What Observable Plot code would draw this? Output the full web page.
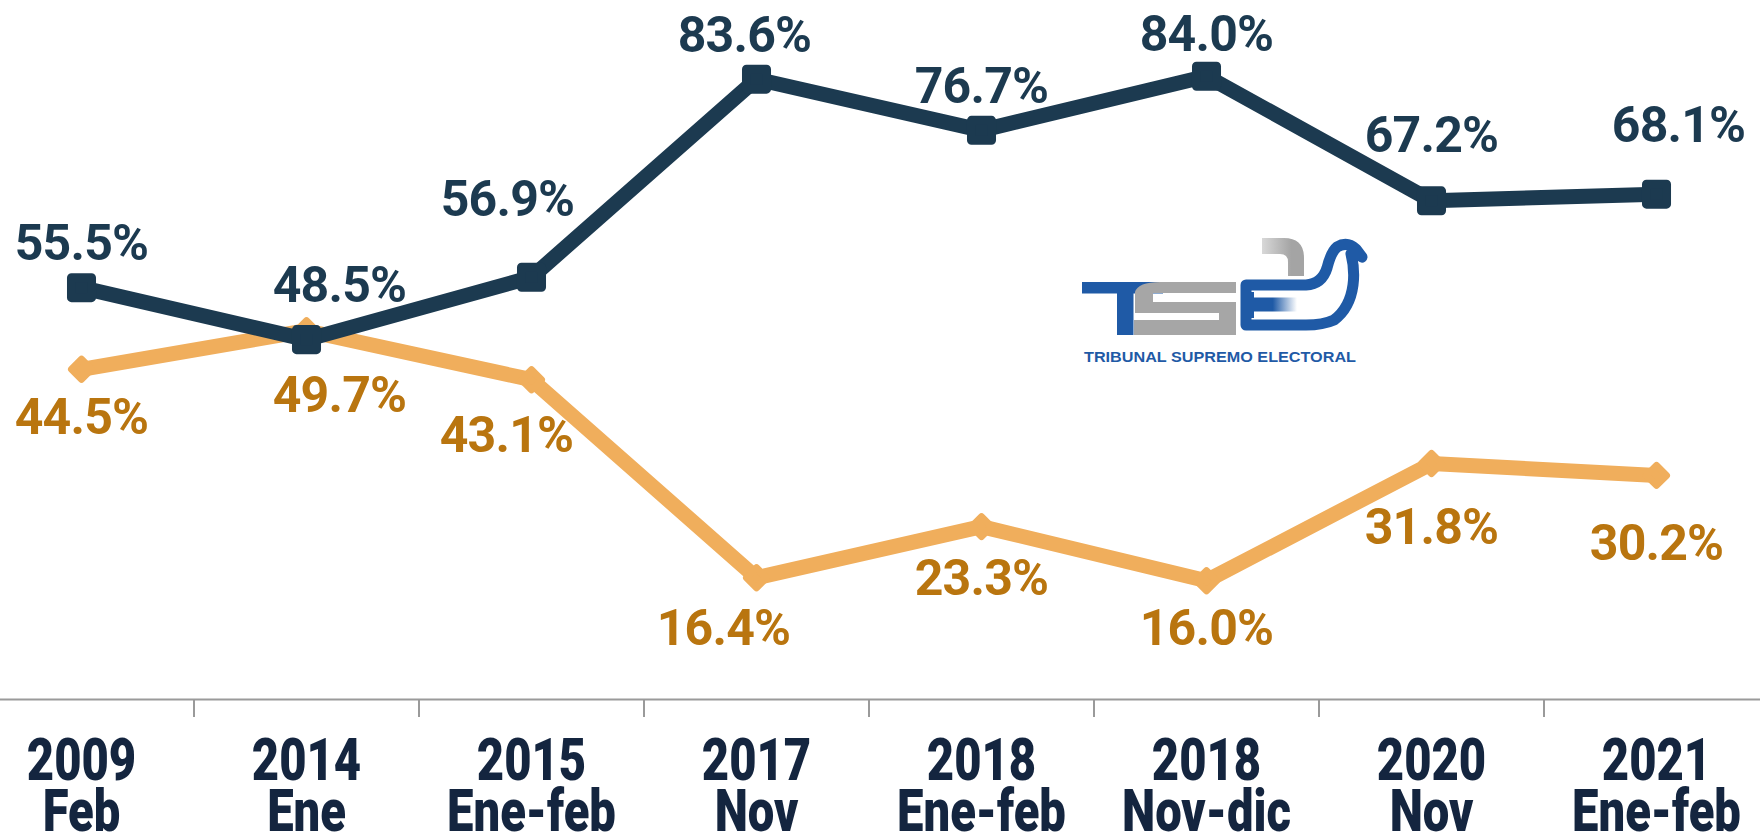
<!DOCTYPE html>
<html><head><meta charset="utf-8">
<script src="https://cdn.jsdelivr.net/npm/d3@7"></script>
<script src="https://cdn.jsdelivr.net/npm/@observablehq/plot@0.6"></script>
<style>
html,body{margin:0;padding:0;background:#fff;overflow:hidden;}
#wrap{position:relative;width:1760px;height:834px;}
#logo{position:absolute;left:1060px;top:220px;}
</style></head><body><div id="wrap"></div>
<script>
// ---- data ----
const years = ["2009","2014","2015","2017","2018","2018","2020","2021"];
const periods = ["Feb","Ene","Ene-feb","Nov","Ene-feb","Nov-dic","Nov","Ene-feb"];
const darkValues = [55.5,48.5,56.9,83.6,76.7,84.0,67.2,68.1];
const orangeValues = [44.5,49.7,43.1,16.4,23.3,16.0,31.8,30.2];

// ---- label layout (pixel nudges) ----
const darkLabelDx = [0,33,-24,-12,0,0,0,22];
const darkLabelDy = [-44,-54,-77,-43,-43,-41,-65,-68];
const orangeLabelDx = [0,33,-25,-33,0,0,0,0];
const orangeLabelDy = [49,65,56,51,52,48,64,69];

const DARK = "#1c3a50", ORANGE = "#f0ae5c", ORANGE_TXT = "#b9750f", AXIS_TXT = "#14253f";
const idx = d3.range(years.length);
const fmt = v => v.toFixed(1) + "%";

const labelFont = {fontFamily: "Roboto, 'Liberation Sans', sans-serif", fontWeight: 700, fontSize: 50};

const marks = [
  Plot.ruleY([0], {stroke: "#9a9a9a", strokeWidth: 2}),
  Plot.axisX(d3.range(0.5, 7, 1), {tickSize: 18, tickFormat: () => "", stroke: "#9a9a9a", strokeWidth: 2}),
  Plot.axisX(idx, {
    tickSize: 0, tickPadding: 44,
    tickFormat: i => `${years[i]}\n${periods[i]}`,
    fontFamily: "Roboto, 'Liberation Sans', sans-serif",
    fontWeight: 900, fontSize: 59, lineHeight: 0.87, lineAnchor: "top",
    fill: AXIS_TXT
  }),
  Plot.line(idx, {x: i => i, y: i => orangeValues[i], stroke: ORANGE, strokeWidth: 15, strokeLinejoin: "round"}),
  Plot.dot(idx, {x: i => i, y: i => orangeValues[i], symbol: "diamond2", r: 9, fill: ORANGE, stroke: ORANGE, strokeWidth: 7, strokeLinejoin: "round"}),
  Plot.line(idx, {x: i => i, y: i => darkValues[i], stroke: DARK, strokeWidth: 15, strokeLinejoin: "round"}),
  Plot.dot(idx, {x: i => i, y: i => darkValues[i], symbol: "square", r: 11.3, fill: DARK, stroke: DARK, strokeWidth: 9, strokeLinejoin: "round"}),
  ...idx.map(i => Plot.text([i], {x: d => d, y: d => darkValues[d], text: d => fmt(darkValues[d]),
      dx: darkLabelDx[i], dy: darkLabelDy[i], fill: DARK, ...labelFont})),
  ...idx.map(i => Plot.text([i], {x: d => d, y: d => orangeValues[d], text: d => fmt(orangeValues[d]),
      dx: orangeLabelDx[i], dy: orangeLabelDy[i], fill: ORANGE_TXT, ...labelFont}))
];

const chart = Plot.plot({
  width: 1760, height: 834,
  marginTop: 0, marginBottom: 135, marginLeft: 0, marginRight: 0,
  x: {type: "linear", domain: [-0.36, 7.4622], axis: null},
  y: {domain: [0, 94.2], axis: null},
  style: {background: "white", overflow: "visible"},
  marks
});
// value labels: slightly tighter tracking
d3.select(chart).selectAll('g[aria-label="text"] text').style("letter-spacing", "-0.8px");
// condensed look for the category labels
d3.select(chart).selectAll('g[aria-label="x-axis tick label"] text').each(function() {
  const t = this.getAttribute("transform") || "";
  this.setAttribute("transform", t + " scale(0.80,1)");
});
document.getElementById("wrap").appendChild(chart);

// ---- TSE logo (approximation), drawn in page pixel coordinates ----
const B = "#1f5aa6";
const logo = `
<svg id="logo" width="320" height="160" viewBox="1060 220 320 160" xmlns="http://www.w3.org/2000/svg">
 <defs>
  <linearGradient id="fadeB" x1="0" x2="1"><stop offset="0.45" stop-color="${B}"/><stop offset="1" stop-color="${B}" stop-opacity="0"/></linearGradient>
  <linearGradient id="fadeG" x1="0" x2="1"><stop offset="0" stop-color="#d8d8d8"/><stop offset="0.7" stop-color="#a4a4a4"/></linearGradient>
 </defs>
 <rect x="1082" y="282" width="81" height="11.5" fill="${B}"/>
 <rect x="1117" y="293" width="16.5" height="42" fill="${B}"/>
 <path d="M1160,282 H1236 V293 H1153 V302 H1236 V335 H1134 V320 H1219 V313 H1135 V292 Q1138,282 1160,282 Z" fill="#a6a6a6"/>
 <path d="M1262,238 H1284 Q1304,238 1304,258 V276 H1288 V262 Q1288,254 1280,254 H1262 Z" fill="url(#fadeG)"/>
 <rect x="1253" y="297.5" width="44" height="14" fill="url(#fadeB)"/>
 <path d="M1246,285 H1306 Q1322,284 1327,268 Q1331,252 1337,247 Q1347,241 1356,249 L1362,257 Q1355,252 1351,254 Q1355,270 1353,285 Q1350,308 1334,320 Q1323,325 1306,325 H1246 Z"
   fill="none" stroke="${B}" stroke-width="11" stroke-linejoin="round"/>
 <path d="M1252,292 V318" stroke="${B}" stroke-width="4"/>
 <text x="1084" y="361.5" textLength="272" lengthAdjust="spacingAndGlyphs" font-family="'Liberation Sans', Arial, sans-serif" font-weight="700" font-size="14" fill="${B}">TRIBUNAL SUPREMO ELECTORAL</text>
</svg>`;
document.getElementById("wrap").insertAdjacentHTML("beforeend", logo);
</script>
</body></html>
